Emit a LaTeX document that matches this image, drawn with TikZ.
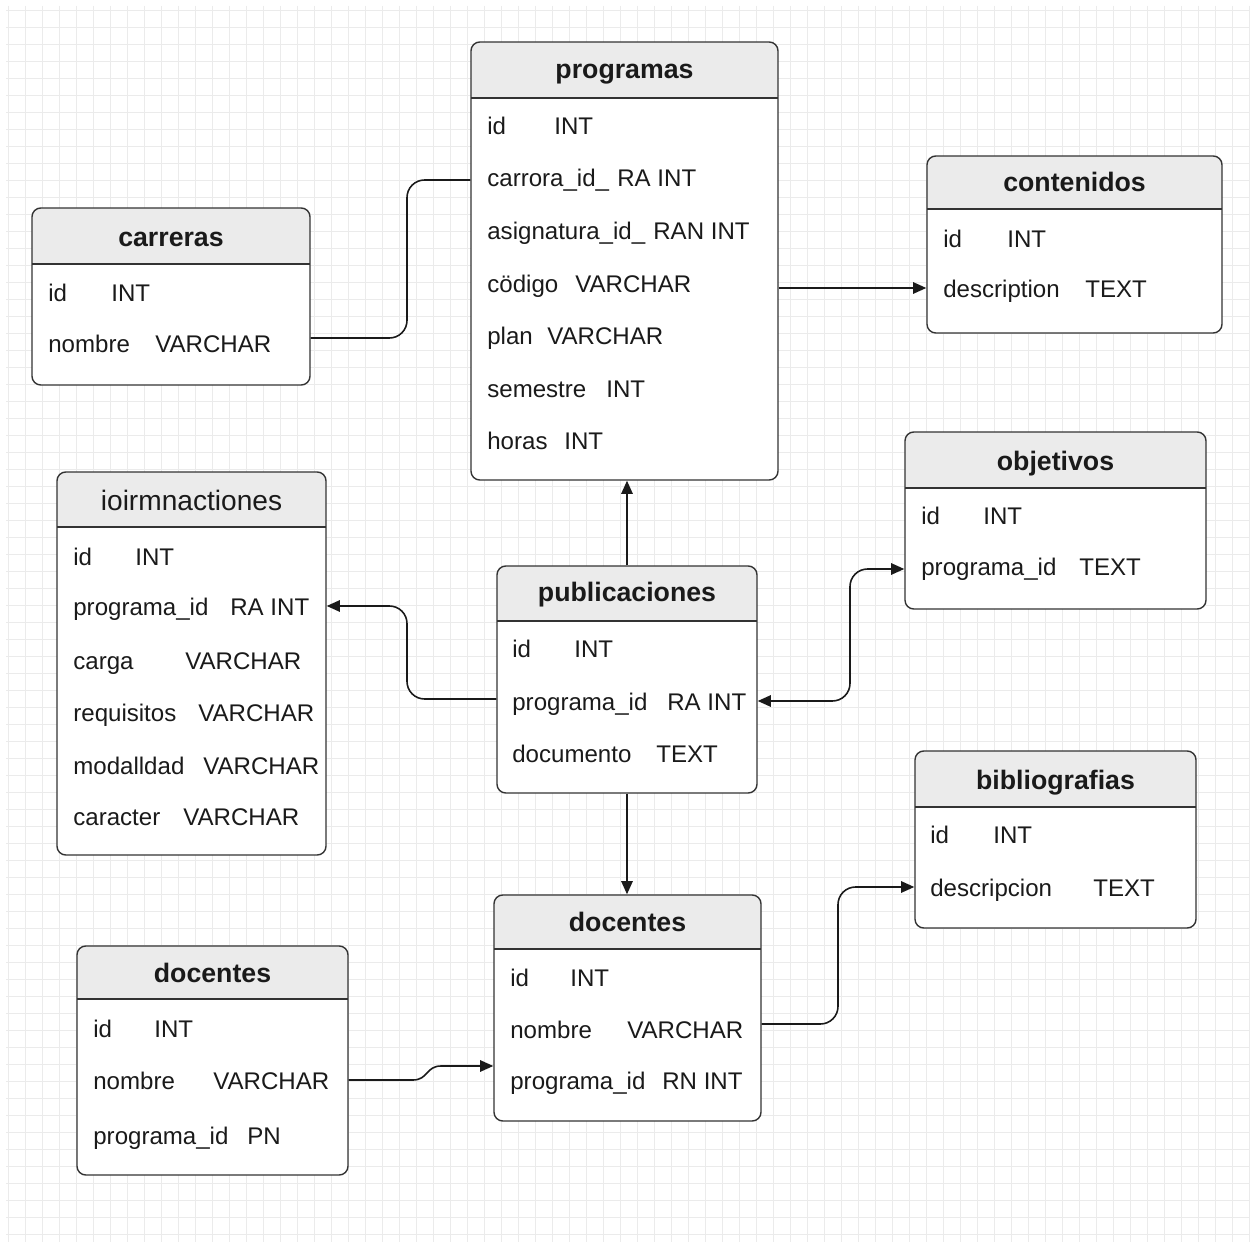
\documentclass[tikz,border=0pt]{standalone}
\usepackage{fontspec}
\setmainfont{Liberation Sans}
\usetikzlibrary{arrows.meta,fit}
\definecolor{gridc}{HTML}{EBEBEB}
\definecolor{headc}{HTML}{EBEBEB}
\definecolor{edgec}{HTML}{333333}
\definecolor{inkc}{HTML}{1A1A1A}
\tikzset{
  tbox/.style={draw=edgec, line width=0.8pt, rounded corners=5pt, inner sep=0pt},
  ttitle/.style={font=\fontsize{15.2}{18}\selectfont\bfseries, anchor=base, inner sep=0pt, text=inkc},
  ttitlereg/.style={font=\fontsize{16}{18}\selectfont, anchor=base, inner sep=0pt, text=inkc},
  field/.style={font=\fontsize{13.7}{16}\selectfont, anchor=base west, inner sep=0pt, text=inkc},
  conn/.style={draw=inkc, line width=0.9pt, rounded corners=10pt},
  tip/.tip={Triangle[length=7.5pt,width=6.5pt]},
  arr/.style={-tip},
  dblarr/.style={tip-tip},
}
% #1 name, #2 left, #3 top, #4 right, #5 bottom, #6 header bottom, #7 title, #8 title y, #9 title style
\newcommand\erTable[9]{%
  \fill[white, rounded corners=5pt] (#2,#3) rectangle (#4,#5);
  \begin{scope}
    \clip[rounded corners=5pt] (#2,#3) rectangle (#4,#5);
    \fill[headc] (#2,#3) rectangle (#4,#6);
  \end{scope}
  \draw[edgec, line width=0.8pt] (#2,#6) -- (#4,#6);
  \node[tbox, fit={(#2,#3) (#4,#5)}] (#1) {};
  \node[#9] (#1-title) at ({(#2+#4)/2},{#8+9}) {#7};
}
\newcommand\fld[4]{\node[field] (#1) at (#2,{#3+9}) {#4};}

\begin{document}
\begin{tikzpicture}[x=0.02cm, y=-0.02cm]
\useasboundingbox (0,0) rectangle (1255,1246);
\fill[white] (0,0) rectangle (1255,1246);
% background grid
\foreach \i in {0,...,73} {\draw[gridc, line width=0.5pt] ({8+17*\i},6) -- ({8+17*\i},1242);}
\foreach \j in {0,...,72} {\draw[gridc, line width=0.5pt] (6,{10+17*\j}) -- (1250,{10+17*\j});}

% ---------- programas
\erTable{programas}{471}{42}{778}{480}{98}{programas}{70}{ttitle}
\fld{pr1a}{487}{126}{id}          \fld{pr1b}{554}{126}{INT}
\fld{pr2a}{487}{178}{carrora\_id\_} \fld{pr2b}{617}{178}{RA INT}
\fld{pr3a}{487}{231}{asignatura\_id\_} \fld{pr3b}{653}{231}{RAN INT}
\fld{pr4a}{487}{284}{cödigo}      \fld{pr4b}{575}{284}{VARCHAR}
\fld{pr5a}{487}{336}{plan}        \fld{pr5b}{547}{336}{VARCHAR}
\fld{pr6a}{487}{389}{semestre}    \fld{pr6b}{606}{389}{INT}
\fld{pr7a}{487}{441}{horas}       \fld{pr7b}{564}{441}{INT}

% ---------- carreras
\erTable{carreras}{32}{208}{310}{385}{264}{carreras}{238}{ttitle}
\fld{ca1a}{48}{293}{id}      \fld{ca1b}{111}{293}{INT}
\fld{ca2a}{48}{344}{nombre}  \fld{ca2b}{155}{344}{VARCHAR}

% ---------- contenidos
\erTable{contenidos}{927}{156}{1222}{333}{209}{contenidos}{183}{ttitle}
\fld{co1a}{943}{239}{id}           \fld{co1b}{1007}{239}{INT}
\fld{co2a}{943}{289}{description}  \fld{co2b}{1085}{289}{TEXT}

% ---------- ioirmnactiones
\erTable{ioirm}{57}{472}{326}{855}{527}{ioirmnactiones}{502}{ttitlereg}
\fld{io1a}{73}{557}{id}            \fld{io1b}{135}{557}{INT}
\fld{io2a}{73}{607}{programa\_id}  \fld{io2b}{230}{607}{RA INT}
\fld{io3a}{73}{661}{carga}         \fld{io3b}{185}{661}{VARCHAR}
\fld{io4a}{73}{713}{requisitos}    \fld{io4b}{198}{713}{VARCHAR}
\fld{io5a}{73}{765}{modalldad}     \fld{io5b}{203}{765}{VARCHAR}
\fld{io6a}{73}{817}{caracter}      \fld{io6b}{183}{817}{VARCHAR}

% ---------- publicaciones
\erTable{publicaciones}{497}{566}{757}{793}{621}{publicaciones}{593}{ttitle}
\fld{pu1a}{512}{649}{id}           \fld{pu1b}{574}{649}{INT}
\fld{pu2a}{512}{702}{programa\_id} \fld{pu2b}{667}{702}{RA INT}
\fld{pu3a}{512}{754}{documento}    \fld{pu3b}{656}{754}{TEXT}

% ---------- objetivos
\erTable{objetivos}{905}{432}{1206}{609}{488}{objetivos}{462}{ttitle}
\fld{ob1a}{921}{516}{id}           \fld{ob1b}{983}{516}{INT}
\fld{ob2a}{921}{567}{programa\_id} \fld{ob2b}{1079}{567}{TEXT}

% ---------- bibliografias
\erTable{biblio}{915}{751}{1196}{928}{807}{bibliografias}{780}{ttitle}
\fld{bi1a}{930}{834}{id}           \fld{bi1b}{993}{834}{INT}
\fld{bi2a}{930}{887}{descripcion}  \fld{bi2b}{1093}{887}{TEXT}

% ---------- docentes (right)
\erTable{docR}{494}{895}{761}{1121}{949}{docentes}{922}{ttitle}
\fld{dr1a}{510}{977}{id}           \fld{dr1b}{570}{977}{INT}
\fld{dr2a}{510}{1029}{nombre}      \fld{dr2b}{627}{1029}{VARCHAR}
\fld{dr3a}{510}{1080}{programa\_id} \fld{dr3b}{662}{1080}{RN INT}

% ---------- docentes (left)
\erTable{docL}{77}{946}{348}{1175}{999}{docentes}{973}{ttitle}
\fld{dl1a}{93}{1028}{id}           \fld{dl1b}{154}{1028}{INT}
\fld{dl2a}{93}{1080}{nombre}       \fld{dl2b}{213}{1080}{VARCHAR}
\fld{dl3a}{93}{1135}{programa\_id} \fld{dl3b}{247}{1135}{PN}

% ---------- connectors
\draw[conn] (carreras.east |- 0,338) -- (407,338) -- (407,180) -- (programas.west |- 0,180);
\draw[conn, arr] (programas.east |- 0,288) -- (contenidos.west |- 0,288);
\draw[conn, arr] (publicaciones.north) -- (publicaciones.north |- programas.south);
\draw[conn, arr] (publicaciones.west |- 0,699) -- (407,699) -- (407,606) -- (ioirm.east |- 0,606);
\draw[conn, dblarr] (publicaciones.east |- 0,701) -- (850,701) -- (850,569) -- (objetivos.west |- 0,569);
\draw[conn, arr] (publicaciones.south) -- (publicaciones.south |- docR.north);
\draw[conn, arr] (docR.east |- 0,1024) -- (838,1024) -- (838,887) -- (biblio.west |- 0,887);
\draw[conn, arr, sharp corners] (docL.east |- 0,1080) -- (413,1080) .. controls (428,1080) and (426,1066) .. (441,1066) -- (docR.west |- 0,1066);
\end{tikzpicture}
\end{document}
